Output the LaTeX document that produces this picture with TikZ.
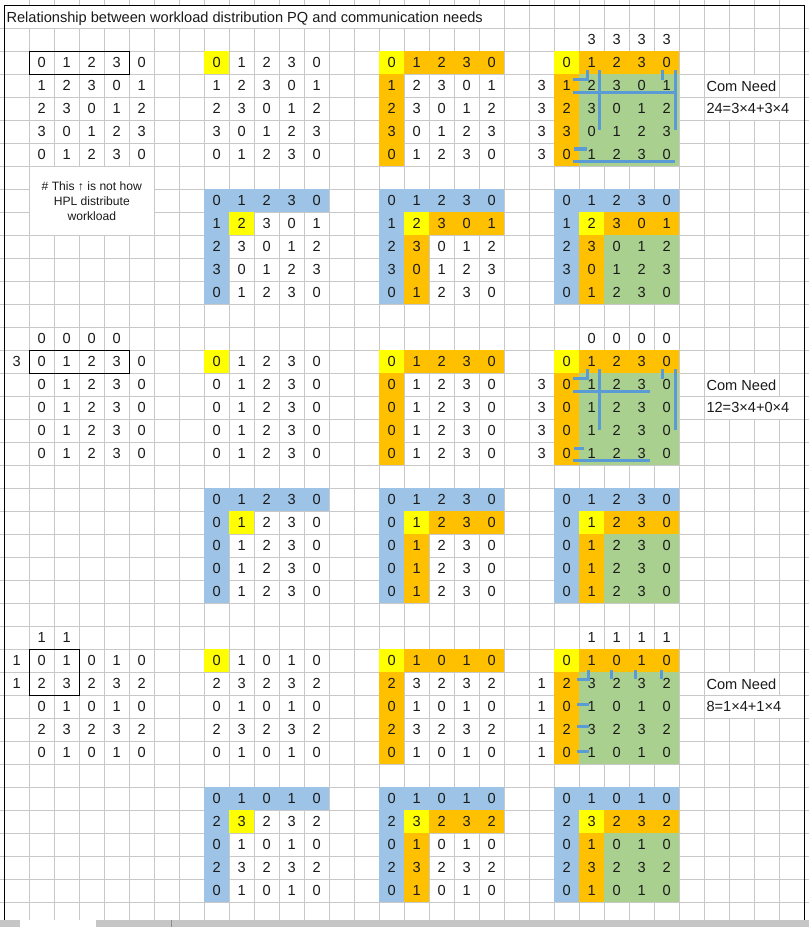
\documentclass[tikz,border=0pt]{standalone}
\usepackage{fontspec}
\setmainfont{Liberation Sans}
\definecolor{gridgray}{HTML}{C8C8C8}
\definecolor{xlyellow}{HTML}{FFFF00}
\definecolor{xlorange}{HTML}{FFC000}
\definecolor{xlblue}{HTML}{9DC3E6}
\definecolor{xlgreen}{HTML}{A9D08E}
\definecolor{markblue}{HTML}{5B9BD5}
\definecolor{inktext}{HTML}{1A1A1A}
\definecolor{barbg}{HTML}{C6C6C6}
\newcommand\cellfont{\fontsize{14.6}{17}\selectfont}
\newcommand\notefont{\fontsize{12.1}{15}\selectfont}
% rows of the three workload matrices
\def\matA{{0,1,2,3,0},{1,2,3,0,1},{2,3,0,1,2},{3,0,1,2,3},{0,1,2,3,0}}
\def\matB{{0,1,2,3,0},{0,1,2,3,0},{0,1,2,3,0},{0,1,2,3,0},{0,1,2,3,0}}
\def\matC{{0,1,0,1,0},{2,3,2,3,2},{0,1,0,1,0},{2,3,2,3,2},{0,1,0,1,0}}
% fill a block of cells: colour, first col, first row, last col, last row
\newcommand\fillcells[5]{\fill[#1] (#2,#3) rectangle ({#4+1},{#5+1});}
% write a 5x5 matrix: id, first col, first row, list of rows
\newcommand\putmatrix[4]{%
  \foreach \rowvals [count=\ri from 0] in #4 {
    \foreach \v [count=\ci from 0] in \rowvals {
      \node[cellnum, name=#1-\ri-\ci] at ({#2+\ci+0.5},{#3+\ri+0.5}) {\v};
    }
  }}
% one section: top row of the blocks, matrix, id prefix
\newcommand\drawsection[3]{%
  % colour fills
  \fillcells{xlyellow}{8}{#1}{8}{#1}
  \fillcells{xlorange}{16}{#1}{19}{#1}
  \fillcells{xlorange}{15}{#1+1}{15}{#1+4}
  \fillcells{xlyellow}{15}{#1}{15}{#1}
  \fillcells{xlorange}{23}{#1}{26}{#1}
  \fillcells{xlorange}{22}{#1+1}{22}{#1+4}
  \fillcells{xlgreen}{23}{#1+1}{26}{#1+4}
  \fillcells{xlyellow}{22}{#1}{22}{#1}
  \fillcells{xlblue}{8}{#1+6}{12}{#1+6}
  \fillcells{xlblue}{8}{#1+7}{8}{#1+10}
  \fillcells{xlyellow}{9}{#1+7}{9}{#1+7}
  \fillcells{xlblue}{15}{#1+6}{19}{#1+6}
  \fillcells{xlblue}{15}{#1+7}{15}{#1+10}
  \fillcells{xlorange}{17}{#1+7}{19}{#1+7}
  \fillcells{xlorange}{16}{#1+8}{16}{#1+10}
  \fillcells{xlyellow}{16}{#1+7}{16}{#1+7}
  \fillcells{xlblue}{22}{#1+6}{26}{#1+6}
  \fillcells{xlblue}{22}{#1+7}{22}{#1+10}
  \fillcells{xlorange}{24}{#1+7}{26}{#1+7}
  \fillcells{xlorange}{23}{#1+8}{23}{#1+10}
  \fillcells{xlgreen}{24}{#1+8}{26}{#1+10}
  \fillcells{xlyellow}{23}{#1+7}{23}{#1+7}
  % numbers
  \putmatrix{#3a}{1}{#1}{#2}
  \putmatrix{#3b}{8}{#1}{#2}
  \putmatrix{#3c}{15}{#1}{#2}
  \putmatrix{#3d}{22}{#1}{#2}
  \putmatrix{#3e}{8}{#1+6}{#2}
  \putmatrix{#3f}{15}{#1+6}{#2}
  \putmatrix{#3g}{22}{#1+6}{#2}
}
\tikzset{
  cellnum/.style={font=\cellfont, text=inktext, inner sep=0pt, anchor=center},
  gridline/.style={draw=gridgray, line width=1pt},
  annot/.style={draw=markblue, line width=3pt, line join=miter},
  outlinebox/.style={draw=black, line width=1pt},
  sidetext/.style={font=\cellfont, text=inktext, inner sep=0pt, anchor=west, xshift=2pt},
}
\begin{document}
\begin{tikzpicture}[x=1pt,y=-1pt]
\useasboundingbox (0,0) rectangle (809,927);
\fill[white] (0,0) rectangle (809,927);

% sheet grid
\foreach \j in {1,...,31} \draw[gridline] ({4.3+25*\j},0) -- ({4.3+25*\j},920);
\foreach \k in {1,...,39} \draw[gridline] (0,{5.3+23*\k}) -- (809,{5.3+23*\k});

% cells whose gridlines are hidden by overflowing text
\fill[white] (5,5.8) rectangle (503.8,27.8);
\fill[white] (29.8,166.8) rectangle (153.8,234.8);
\foreach \R in {2,15,28} {
  \fill[white] (704.8,{5.3+23*(\R+1)+0.5}) rectangle (778.8,{5.3+23*(\R+2)-0.5});
  \fill[white] (704.8,{5.3+23*(\R+2)+0.5}) rectangle (803.8,{5.3+23*(\R+3)-0.5});
}

\begin{scope}[shift={(4.3,5.3)}, x=25pt, y=-23pt]
  \drawsection{2}{\matA}{s1}
  \drawsection{15}{\matB}{s2}
  \drawsection{28}{\matC}{s3}

  % row / column counts
  \foreach \c in {23,24,25,26} \node[cellnum] (s1top\c) at (\c+0.5,1.5) {3};
  \foreach \r in {3,4,5,6} \node[cellnum] (s1left\r) at (21.5,\r+0.5) {3};
  \foreach \c in {1,2,3,4} \node[cellnum] (s2atop\c) at (\c+0.5,14.5) {0};
  \node[cellnum] (s2aleft) at (0.5,15.5) {3};
  \foreach \c in {23,24,25,26} \node[cellnum] (s2top\c) at (\c+0.5,14.5) {0};
  \foreach \r in {16,17,18,19} \node[cellnum] (s2left\r) at (21.5,\r+0.5) {3};
  \foreach \c in {1,2} \node[cellnum] (s3atop\c) at (\c+0.5,27.5) {1};
  \foreach \r in {28,29} \node[cellnum] (s3aleft\r) at (0.5,\r+0.5) {1};
  \foreach \c in {23,24,25,26} \node[cellnum] (s3top\c) at (\c+0.5,27.5) {1};
  \foreach \r in {29,30,31,32} \node[cellnum] (s3left\r) at (21.5,\r+0.5) {1};

  % communication needs
  \node[sidetext] (need1) at (28,3.5) {Com Need};
  \node[sidetext] (sum1) at (28,4.5) {24=3×4+3×4};
  \node[sidetext] (need2) at (28,16.5) {Com Need};
  \node[sidetext] (sum2) at (28,17.5) {12=3×4+0×4};
  \node[sidetext] (need3) at (28,29.5) {Com Need};
  \node[sidetext] (sum3) at (28,30.5) {8=1×4+1×4};

  % note under the first matrix
  \node[font=\notefont, text=inktext, align=center, inner sep=0pt] (note) at (3.5,8.5)
    {\# This ↑ is not how\\HPL distribute\\workload};

  % process grid outlines
  \draw[outlinebox] (1,2) rectangle (5,3);
  \draw[outlinebox] (1,15) rectangle (5,16);
  \draw[outlinebox] (1,28) rectangle (3,30);
\end{scope}

% title
\node[font=\cellfont, text=inktext, anchor=base west, inner sep=0pt] (title) at (6.3,22)
  {Relationship between workload distribution PQ and communication needs};

% communication marks, first section
\draw[annot] (573.3,79.3) -- (587.3,79.3) -- (587.3,70);
\draw[annot] (599.3,70) -- (599.3,130);
\draw[annot] (573.3,92.3) -- (675,92.3);
\draw[annot] (662.3,70) -- (662.3,80);
\draw[annot] (675,70) -- (675,130);
\draw[annot, line width=4pt] (573.5,148.5) -- (587,148.5);
\draw[annot] (573.3,161) -- (675,161);

% communication marks, second section
\draw[annot] (573.3,378.3) -- (587.3,378.3) -- (587.3,369.3);
\draw[annot] (599.3,369.3) -- (599.3,430);
\draw[annot] (573.3,391) -- (650,391);
\draw[annot] (662.3,369.3) -- (662.3,379.3);
\draw[annot] (675.7,369.3) -- (675.7,430);
\draw[annot] (573.5,448.5) -- (584.3,448.5);
\draw[annot] (573.3,460) -- (650,460);

% communication marks, third section
\draw[annot] (577.3,679) -- (588.3,679) -- (588.3,670);
\draw[annot] (611.3,670) -- (611.3,679.3);
\draw[annot] (635.7,670) -- (635.7,679.3);
\draw[annot] (661.7,670) -- (661.7,679.3);
\draw[annot] (577.3,704) -- (589.3,704);
\draw[annot] (577.3,726.7) -- (589.3,726.7);
\draw[annot] (577.3,751) -- (589.3,751);

% sheet frame
\draw[black, line width=1.3pt] (4.3,920) -- (4.3,5.3) -- (804.3,5.3) -- (804.3,920);

% scroll bar
\fill[barbg] (0,920) rectangle (809,927);
\fill[white] (19.6,920) rectangle (96,927);
\draw[gridgray!70!black, line width=0.6pt] (171.3,920) -- (171.3,927);
\end{tikzpicture}
\end{document}
